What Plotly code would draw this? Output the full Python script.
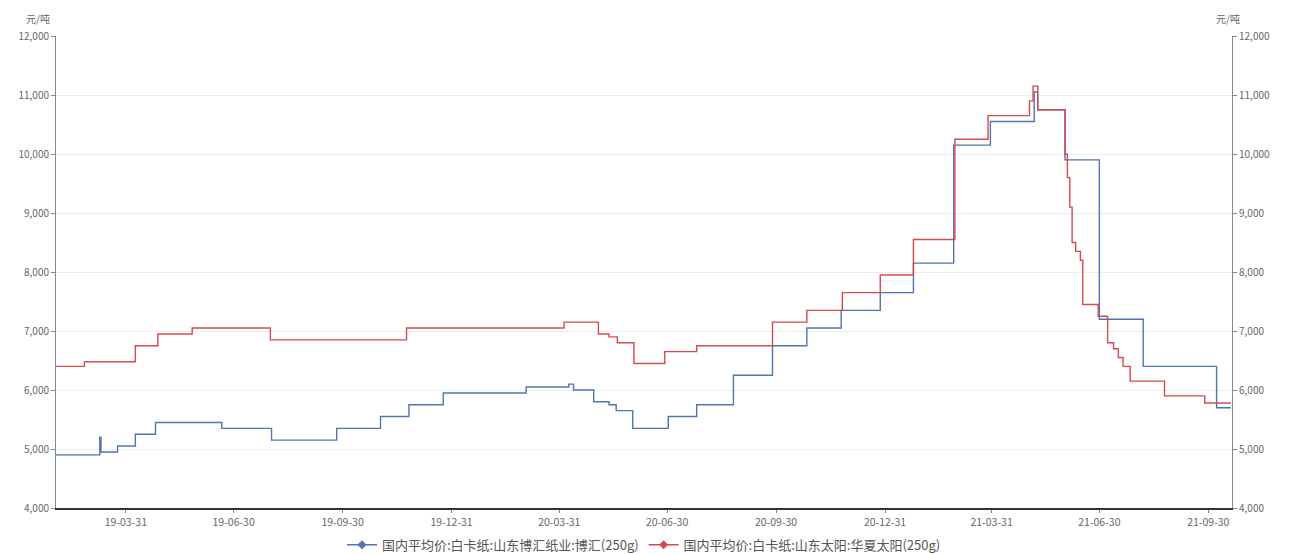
import plotly.graph_objects as go

# ---- data ----
blue_name = "国内平均价:白卡纸:山东博汇纸业:博汇(250g)"
red_name = "国内平均价:白卡纸:山东太阳:华夏太阳(250g)"

blue_dates = ["2019-01-31", "2019-03-09", "2019-03-10", "2019-03-24", "2019-04-08", "2019-04-25",
              "2019-06-20", "2019-08-01", "2019-09-25", "2019-11-01", "2019-11-25", "2019-12-24",
              "2020-03-03", "2020-04-08", "2020-04-12", "2020-04-29", "2020-05-12", "2020-05-18",
              "2020-06-01", "2020-07-01", "2020-07-25", "2020-08-25", "2020-09-27", "2020-10-26",
              "2020-11-24", "2020-12-27", "2021-01-24", "2021-02-27", "2021-03-30", "2021-05-06",
              "2021-05-09", "2021-06-01", "2021-06-30", "2021-08-06", "2021-10-07", "2021-10-19"]
blue_values = [4900, 5200, 4950, 5050, 5250, 5450,
               5350, 5150, 5350, 5550, 5750, 5950,
               6050, 6100, 6000, 5800, 5750, 5650,
               5350, 5550, 5750, 6250, 6750, 7050,
               7350, 7650, 8150, 10150, 10550, 11050,
               10750, 9900, 7200, 6400, 5700, 5700]

red_dates = ["2019-01-31", "2019-02-24", "2019-04-08", "2019-04-27", "2019-05-26", "2019-07-31",
             "2019-11-23", "2020-04-04", "2020-05-03", "2020-05-12", "2020-05-19", "2020-06-02",
             "2020-06-28", "2020-07-25", "2020-09-27", "2020-10-26", "2020-11-25", "2020-12-27",
             "2021-01-24", "2021-02-28", "2021-03-28", "2021-05-02", "2021-05-05", "2021-05-09",
             "2021-06-01", "2021-06-03", "2021-06-05", "2021-06-07", "2021-06-10", "2021-06-14",
             "2021-06-16", "2021-06-29", "2021-07-07", "2021-07-12", "2021-07-16", "2021-07-20",
             "2021-07-26", "2021-08-24", "2021-09-27", "2021-10-19"]
red_values = [6400, 6480, 6750, 6950, 7050, 6850,
              7050, 7150, 6950, 6900, 6800, 6450,
              6650, 6750, 7150, 7350, 7650, 7950,
              8550, 10250, 10650, 10900, 11150, 10750,
              10000, 9600, 9100, 8500, 8350, 8200,
              7450, 7250, 6800, 6700, 6550, 6400,
              6150, 5900, 5780, 5780]

tick_dates = ["2019-03-31", "2019-06-30", "2019-09-30", "2019-12-31", "2020-03-31", "2020-06-30",
              "2020-09-30", "2020-12-31", "2021-03-31", "2021-06-30", "2021-09-30"]
tick_labels = ["19-03-31", "19-06-30", "19-09-30", "19-12-31", "20-03-31", "20-06-30",
               "20-09-30", "20-12-31", "21-03-31", "21-06-30", "21-09-30"]
y_ticks = [4000, 5000, 6000, 7000, 8000, 9000, 10000, 11000, 12000]
y_labels = ["4,000", "5,000", "6,000", "7,000", "8,000", "9,000", "10,000", "11,000", "12,000"]
unit = "元/吨"

BLUE = "#5075b0"
RED = "#d64b50"
FONT = "Noto Sans CJK SC"

fig = go.Figure()
fig.add_trace(go.Scatter(x=blue_dates, y=blue_values, mode="lines", line=dict(color=BLUE, width=1.4, shape="hv"),
                         name=blue_name, showlegend=False))
fig.add_trace(go.Scatter(x=red_dates, y=red_values, mode="lines", line=dict(color=RED, width=1.4, shape="hv"),
                         name=red_name, showlegend=False, yaxis="y2"))
# legend entries
fig.add_trace(go.Scatter(x=[None], y=[None], mode="lines+markers", name=blue_name,
                         line=dict(color=BLUE, width=1.5), marker=dict(symbol="diamond", size=7, color=BLUE)))
fig.add_trace(go.Scatter(x=[None], y=[None], mode="lines+markers", name=red_name,
                         line=dict(color=RED, width=1.5), marker=dict(symbol="diamond", size=7, color=RED)))

fig.update_layout(
    width=1285, height=546,
    margin=dict(l=48, r=61, t=28, b=46, autoexpand=False),
    paper_bgcolor="white", plot_bgcolor="white",
    font=dict(family=FONT, size=10, color="#555"),
    xaxis=dict(type="date", range=["2019-01-31", "2021-10-20"],
               tickvals=tick_dates, ticktext=tick_labels, automargin=False,
               showgrid=False, showline=True, linecolor="#333", linewidth=2,
               ticks="outside", ticklen=3, tickcolor="#888",
               tickfont=dict(size=10.5, color="#666"), zeroline=False),
    yaxis=dict(range=[4000, 12000], tickvals=y_ticks, ticktext=y_labels, automargin=False,
               showgrid=True, gridcolor="#ececec", gridwidth=1,
               showline=True, linecolor="#888", linewidth=1,
               ticks="outside", ticklen=4, tickcolor="#888",
               tickfont=dict(size=10, color="#666"), zeroline=False),
    yaxis2=dict(range=[4000, 12000], tickvals=y_ticks, ticktext=y_labels, automargin=False,
                overlaying="y", side="right", showgrid=False,
                showline=True, linecolor="#888", linewidth=1,
                ticks="outside", ticklen=4, tickcolor="#888",
                tickfont=dict(size=10, color="#666"), zeroline=False),
    legend=dict(orientation="h", x=0.5, xanchor="center", y=-0.078, yanchor="middle",
                font=dict(size=13, color="#555"), bgcolor="rgba(0,0,0,0)"),
    annotations=[
        dict(text=unit, xref="paper", yref="paper", x=0, y=1, xanchor="center", yanchor="middle",
             xshift=-18, yshift=18, showarrow=False, font=dict(size=10, color="#666")),
        dict(text=unit, xref="paper", yref="paper", x=1, y=1, xanchor="center", yanchor="middle",
             xshift=-4, yshift=18, showarrow=False, font=dict(size=10, color="#666")),
    ],
)

fig.write_html("out.html")
